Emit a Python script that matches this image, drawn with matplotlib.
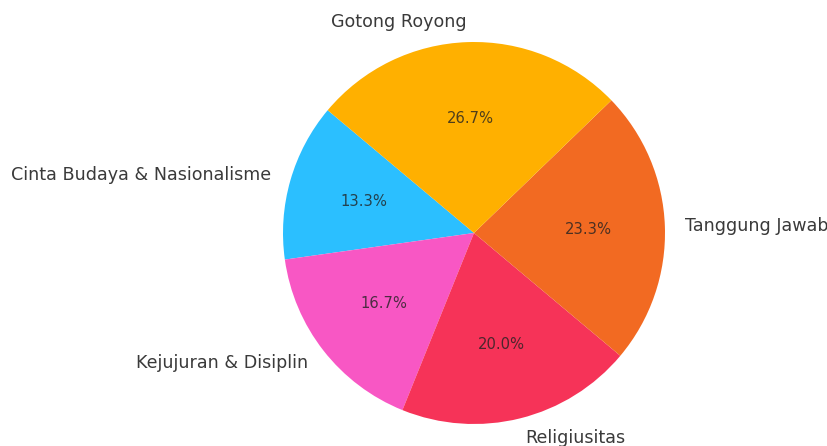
import matplotlib
matplotlib.use("Agg")
import matplotlib.pyplot as plt

# data (counterclockwise from startangle)
labels = ["Cinta Budaya & Nasionalisme", "Kejujuran & Disiplin", "Religiusitas",
          "Tanggung Jawab", "Gotong Royong"]
values = [4, 5, 6, 7, 8]
colors = ["#2BBFFF", "#F857C4", "#F63358", "#F26A22", "#FFB000"]

W, H = 828, 446
fig = plt.figure(figsize=(W / 100, H / 100), dpi=100)

# pie centre (474, 233) px, radius ~191 px
r = 191
cx, cy = 474, H - 233
side = 2.5 * r
ax = fig.add_axes([(cx - side / 2) / W, (cy - side / 2) / H, side / W, side / H])

wedges, texts, autotexts = ax.pie(
    values, labels=labels, colors=colors, autopct="%1.1f%%",
    startangle=140, labeldistance=1.105,
    textprops={"fontsize": 12.6, "color": "#3a3a3a"},
)
for t in autotexts:
    t.set_fontsize(10.6)
    t.set_color("#222222")
    t.set_alpha(0.8)

ax.set_xlim(-1.25, 1.25)
ax.set_ylim(-1.25, 1.25)
ax.set_aspect("auto")

fig.savefig("out.png", dpi=100)
